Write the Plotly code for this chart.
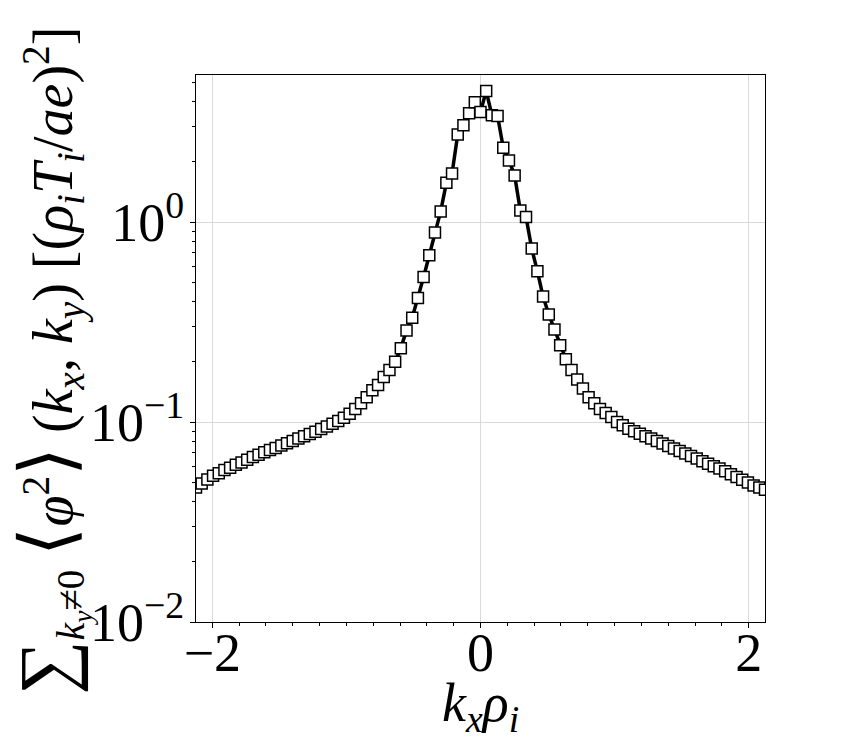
import plotly.graph_objects as go

# kx grid (positive half), mirrored for negative side
KX_POS = [0.0424, 0.0849, 0.1273, 0.1698, 0.2122, 0.2546, 0.2971, 0.3395, 0.382, 0.4244,
          0.4668, 0.5093, 0.5517, 0.5942, 0.6366, 0.679, 0.7215, 0.7639, 0.8064, 0.8488,
          0.8912, 0.9337, 0.9761, 1.0186, 1.061, 1.1034, 1.1459, 1.1883, 1.2308, 1.2732,
          1.3156, 1.3581, 1.4005, 1.443, 1.4854, 1.5278, 1.5703, 1.6127, 1.6552, 1.6976,
          1.74, 1.7825, 1.8249, 1.8674, 1.9098, 1.9522, 1.9947, 2.0371, 2.0796, 2.122]
kx = [-k for k in reversed(KX_POS)] + [0.0] + KX_POS

phi2 = [0.047, 0.0492, 0.0516, 0.0538, 0.0555, 0.0575, 0.0591, 0.0611, 0.0628, 0.0648,
        0.0668, 0.0686, 0.0705, 0.0724, 0.0742, 0.0762, 0.0782, 0.0804, 0.0826, 0.0849,
        0.0872, 0.0895, 0.0922, 0.0950, 0.0981, 0.1013, 0.105, 0.110, 0.116, 0.124,
        0.133, 0.144, 0.153, 0.168, 0.182, 0.200, 0.234, 0.287, 0.332, 0.417,
        0.531, 0.682, 0.885, 1.13, 1.57, 1.75, 2.74, 3.05, 3.50, 3.97,
        3.55,
        4.52, 3.42, 3.39, 2.35, 2.03, 1.71, 1.14, 1.06, 0.736, 0.567,
        0.424, 0.345, 0.290, 0.242, 0.206, 0.182, 0.163, 0.147, 0.133, 0.124,
        0.116, 0.111, 0.106, 0.100, 0.0962, 0.0926, 0.0898, 0.0874, 0.0848, 0.0826,
        0.0804, 0.078, 0.0759, 0.0736, 0.0716, 0.0695, 0.0676, 0.0656, 0.0636, 0.0619,
        0.060, 0.0585, 0.0567, 0.0548, 0.0531, 0.0515, 0.0498, 0.0482, 0.047, 0.0458]

x_ticks = [-2, 0, 2]
x_ticktext = ["\u22122", "0", "2"]
y_ticks = [0.01, 0.1, 1]
y_ticktext = ["10<sup>\u22122</sup>", "10<sup>\u22121</sup>", "10<sup>0</sup>"]
y_minor = [2e-2, 3e-2, 4e-2, 5e-2, 6e-2, 7e-2, 8e-2, 9e-2,
           0.2, 0.3, 0.4, 0.5, 0.6, 0.7, 0.8, 0.9, 2, 3, 4, 5]

FONT = "Liberation Serif"

fig = go.Figure()
fig.add_trace(go.Scatter(
    x=kx, y=phi2, mode="lines+markers",
    line=dict(color="black", width=3.5),
    marker=dict(symbol="square", size=11, color="white",
                line=dict(color="black", width=1.5)),
    showlegend=False,
))

y_title = ("<span style='font-size:76px'>\u2211</span>"
           "<sub><i>k<sub>y</sub></i>\u22600</sub> "
           "<span style='font-size:74px'>\u27e8</span><i>\u03c6</i><sup>2</sup>"
           "<span style='font-size:74px'>\u27e9</span> "
           "(<i>k<sub>x</sub></i>, <i>k<sub>y</sub></i>) "
           "[(<i>\u03c1<sub>i</sub>T<sub>i</sub></i>/<i>ae</i>)<sup>2</sup>]")

fig.update_layout(
    width=850, height=750,
    margin=dict(l=188, r=93, t=67, b=136),
    paper_bgcolor="white", plot_bgcolor="white",
    font=dict(family=FONT, color="black", size=52),
    xaxis=dict(
        range=[-2.122, 2.122],
        tickvals=x_ticks, ticktext=x_ticktext,
        ticks="outside", ticklen=5, tickwidth=1, tickcolor="black",
        ticklabelstandoff=-22,
        showline=True, linecolor="black", linewidth=1, mirror=True,
        showgrid=True, gridcolor="#d9d9d9", gridwidth=1.2,
        zeroline=False,
        tickfont=dict(family=FONT, size=54),
        minor=dict(dtick=0.2, ticks="outside", ticklen=3, tickcolor="black", showgrid=False),
    ),
    yaxis=dict(
        type="log", range=[-2, 0.735],
        tickvals=y_ticks, ticktext=y_ticktext,
        ticks="outside", ticklen=5, tickwidth=1, tickcolor="black",
        ticklabelstandoff=-5,
        showline=True, linecolor="black", linewidth=1, mirror=True,
        showgrid=True, gridcolor="#d9d9d9", gridwidth=1.2,
        zeroline=False,
        tickfont=dict(family=FONT, size=54),
        minor=dict(tickvals=y_minor, ticks="outside", ticklen=3, tickcolor="black", showgrid=False),
    ),
    annotations=[
        dict(text="<i>k<sub>x</sub>\u03c1<sub>i</sub></i>", xref="paper", yref="paper",
             x=0.5, y=-0.155, xanchor="center", yanchor="middle", showarrow=False,
             font=dict(family=FONT, size=54)),
        dict(text=y_title,
             xref="paper", yref="paper", x=-0.255, y=0.478,
             xanchor="center", yanchor="middle", textangle=-90, showarrow=False,
             font=dict(family=FONT, size=56)),
    ],
)

fig.write_html("out.html")
